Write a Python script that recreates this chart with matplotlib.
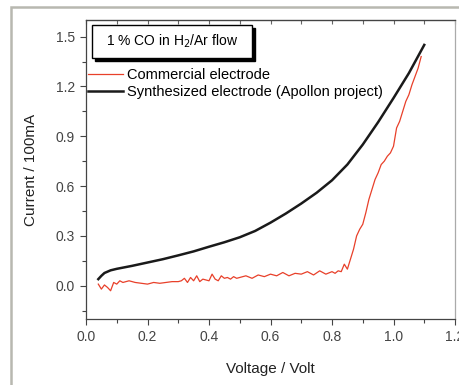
import matplotlib.pyplot as plt
from matplotlib.patches import Rectangle
from matplotlib.ticker import MultipleLocator, NullFormatter

plt.rcParams['font.family'] = ['Liberation Sans', 'DejaVu Sans']

# synthesized electrode (black)
v_syn = [0.04, 0.05, 0.06, 0.08, 0.10, 0.15, 0.20, 0.25, 0.30, 0.35, 0.40, 0.45, 0.50,
         0.55, 0.60, 0.65, 0.70, 0.75, 0.80, 0.85, 0.90, 0.95, 1.00, 1.05, 1.10]
i_syn = [0.04, 0.06, 0.077, 0.093, 0.102, 0.12, 0.14, 0.16, 0.183, 0.207, 0.235, 0.262, 0.292,
         0.33, 0.38, 0.435, 0.495, 0.56, 0.635, 0.73, 0.85, 0.985, 1.13, 1.28, 1.45]

# commercial electrode (red), noisy trace
v_com = [0.04, 0.05, 0.06, 0.07, 0.08, 0.09, 0.10, 0.11, 0.12, 0.13, 0.14, 0.16, 0.18, 0.20,
         0.22, 0.24, 0.26, 0.28, 0.30, 0.31, 0.32, 0.33, 0.34, 0.35, 0.36, 0.37, 0.38, 0.39,
         0.40, 0.41, 0.42, 0.43, 0.44, 0.45, 0.46, 0.47, 0.48, 0.49, 0.50, 0.52, 0.54, 0.56,
         0.58, 0.60, 0.62, 0.64, 0.66, 0.68, 0.70, 0.72, 0.74, 0.76, 0.78, 0.80, 0.81, 0.82,
         0.83, 0.84, 0.85, 0.86, 0.87, 0.88, 0.89, 0.90, 0.91, 0.92, 0.93, 0.94, 0.95, 0.96,
         0.97, 0.98, 0.99, 1.00, 1.01, 1.02, 1.03, 1.04, 1.05, 1.06, 1.07, 1.08, 1.09]
i_com = [0.01, -0.02, 0.005, -0.01, -0.03, 0.02, 0.01, 0.03, 0.02, 0.025, 0.03, 0.02, 0.015, 0.01,
         0.02, 0.015, 0.02, 0.025, 0.025, 0.03, 0.045, 0.02, 0.05, 0.03, 0.06, 0.025, 0.04, 0.035,
         0.03, 0.07, 0.04, 0.03, 0.06, 0.045, 0.05, 0.04, 0.055, 0.045, 0.05, 0.06, 0.045, 0.065,
         0.055, 0.07, 0.06, 0.08, 0.06, 0.075, 0.07, 0.085, 0.065, 0.09, 0.07, 0.085, 0.075, 0.09,
         0.085, 0.13, 0.10, 0.16, 0.22, 0.30, 0.34, 0.37, 0.44, 0.52, 0.58, 0.64, 0.68, 0.73,
         0.75, 0.78, 0.80, 0.84, 0.95, 0.99, 1.05, 1.11, 1.15, 1.21, 1.26, 1.31, 1.38]

x_ticks = [0.0, 0.2, 0.4, 0.6, 0.8, 1.0, 1.2]
y_ticks = [0.0, 0.3, 0.6, 0.9, 1.2, 1.5]

fig = plt.figure(figsize=(4.6, 3.85), dpi=100)
# grey outer frame of the original figure
fig.patches.append(Rectangle((11 / 460, -0.1), 1.2, 1 - 7 / 385 + 0.1, transform=fig.transFigure,
                             fill=False, edgecolor='#b8b8b0', linewidth=1.8))

ax = fig.add_axes([86 / 460, 1 - 319 / 385, 369 / 460, 299 / 385])
ax.plot(v_com, i_com, color='#e8402a', linewidth=0.9, label='Commercial electrode')
ax.plot(v_syn, i_syn, color='#1a1a1a', linewidth=1.8, label='Synthesized electrode (Apollon project)')

ax.set_xlim(0, 1.2)
ax.set_ylim(-0.2, 1.6)
ax.set_xticks(x_ticks)
ax.set_yticks(y_ticks)
ax.set_xticklabels([f'{t:.1f}' for t in x_ticks])
ax.set_yticklabels([f'{t:.1f}' for t in y_ticks])
ax.xaxis.set_minor_locator(MultipleLocator(0.1))
ax.yaxis.set_minor_locator(MultipleLocator(0.15))
ax.tick_params(which='both', direction='out', labelsize=10, colors='#444444', width=0.8,
               top=False, right=False, pad=4)
ax.tick_params(which='major', length=4)
ax.tick_params(which='minor', length=3)
for s in ax.spines.values():
    s.set_color('#444444')
    s.set_linewidth(0.9)
ax.spines['right'].set_color('#aaaaaa')

# small inward ticks along the top edge
top = ax.secondary_xaxis('top')
top.xaxis.set_major_locator(MultipleLocator(0.1))
top.xaxis.set_major_formatter(NullFormatter())
top.tick_params(direction='in', length=3, width=0.8, colors='#666666')

ax.set_xlabel('Voltage / Volt', fontsize=11, color='#222222', labelpad=13)
ax.set_ylabel('Current / 100mA', fontsize=11, color='#222222', labelpad=13)

# boxed title with shadow
ax.add_patch(Rectangle((0.024, 0.862), 0.434, 0.11, transform=ax.transAxes,
                       facecolor='black', edgecolor='black', zorder=4))
ax.add_patch(Rectangle((0.016, 0.873), 0.434, 0.11, transform=ax.transAxes,
                       facecolor='white', edgecolor='black', linewidth=1.0, zorder=5))
ax.text(0.233, 0.928, '1 % CO in H$_2$/Ar flow', transform=ax.transAxes,
        ha='center', va='center', fontsize=10, zorder=6)

ax.legend(loc='upper left', bbox_to_anchor=(0.005, 0.838), frameon=False, fontsize=10.5,
          handlelength=2.4, handletextpad=0.3, labelspacing=0.2, borderpad=0,
          borderaxespad=0)

plt.savefig('out.png', dpi=100)
